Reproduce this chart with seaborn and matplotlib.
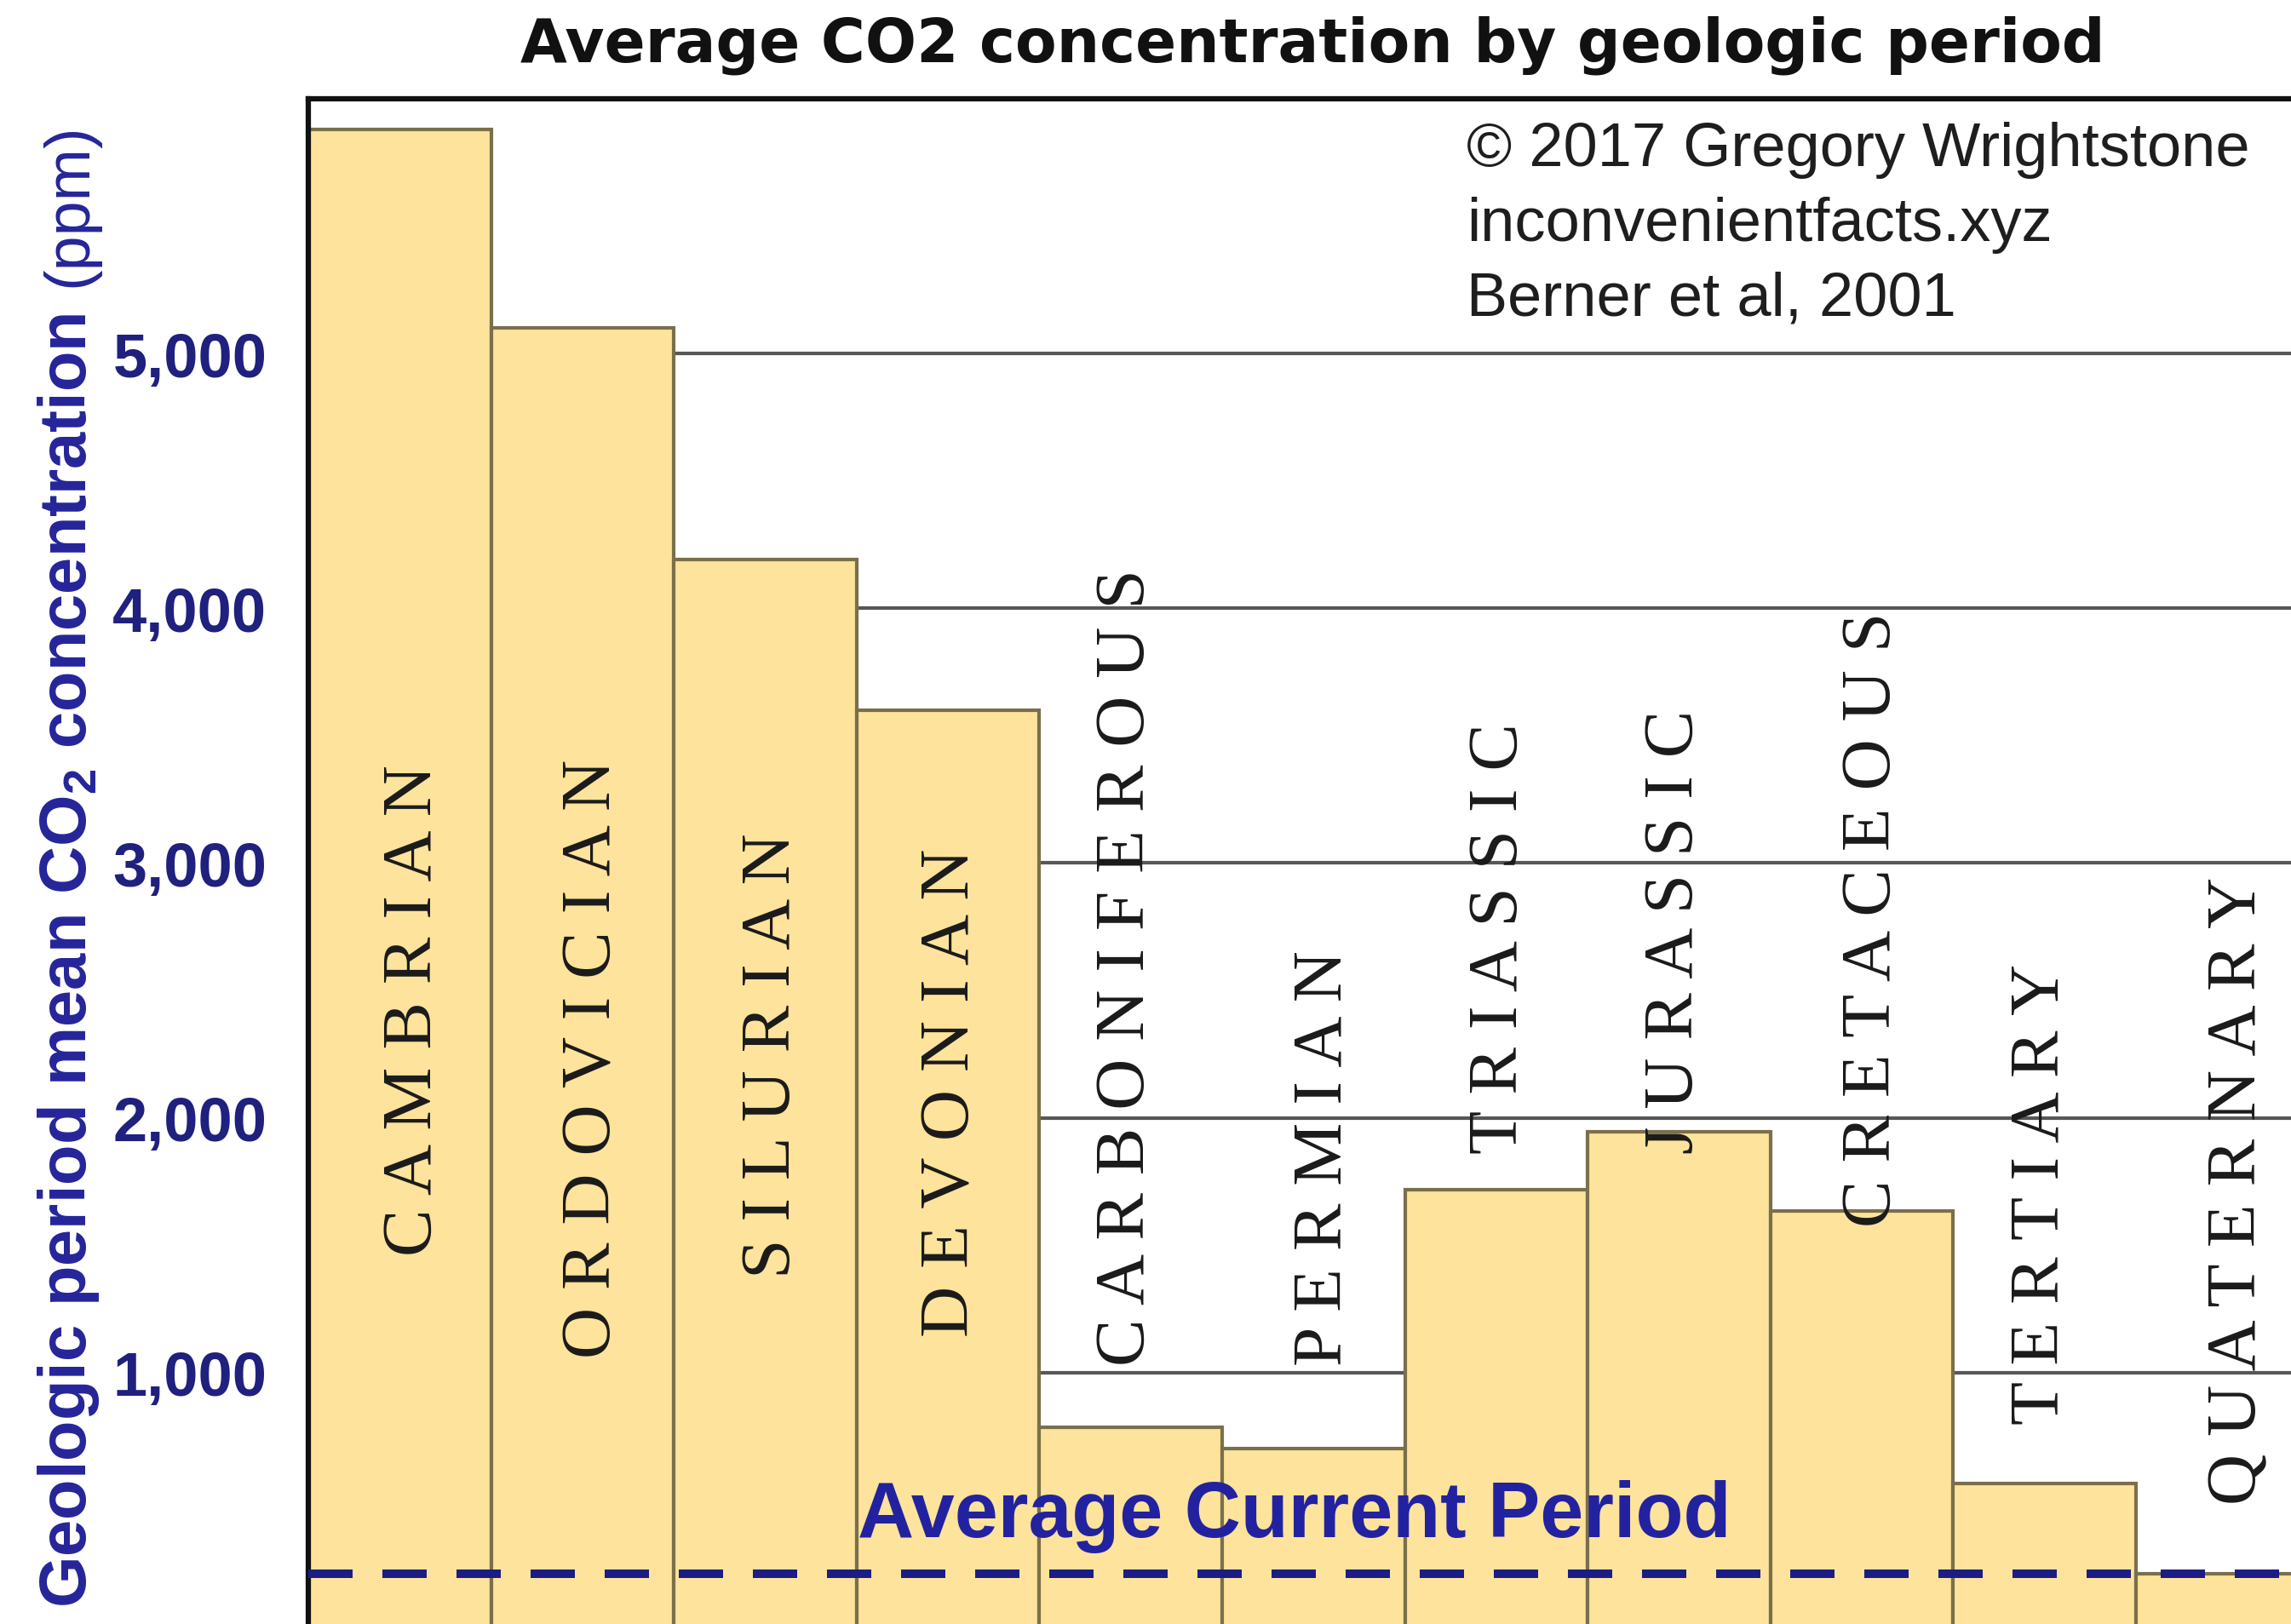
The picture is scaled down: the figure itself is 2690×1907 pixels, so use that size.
import matplotlib.pyplot as plt
import seaborn as sns
import pandas as pd

# data (ppm)
periods = ['CAMBRIAN', 'ORDOVICIAN', 'SILURIAN', 'DEVONIAN', 'CARBONIFEROUS',
           'PERMIAN', 'TRIASSIC', 'JURASSIC', 'CRETACEOUS', 'TERTIARY', 'QUATERNARY']
co2_ppm = [5880, 5100, 4190, 3600, 786, 702, 1719, 1946, 1635, 565, 210]
current_ppm = 210
y_ticks = [1000, 2000, 3000, 4000, 5000]
credits = ['© 2017 Gregory Wrightstone', 'inconvenientfacts.xyz', 'Berner et al, 2001']

# where the vertical period names start (ppm) and their small sideways shift
label_base = [1461, 1060, 1374, 1144, 1030, 1030, 1862, 1862, 1575, 800, 485]
label_dx = [0.08, 0.06, 0.04, 0.02, -0.02, 0.06, 0.02, -0.02, 0.06, -0.02, 0.06]

sns.set_style('white')
plt.rcParams['font.family'] = ['Liberation Sans', 'DejaVu Sans']
plt.rcParams['mathtext.fontset'] = 'custom'
plt.rcParams['mathtext.rm'] = 'Liberation Sans:bold'
plt.rcParams['mathtext.default'] = 'rm'

W, H = 2690, 1908
fig = plt.figure(figsize=(W / 100, H / 100), dpi=100)
ax = fig.add_axes([362 / W, 0.0, 1 - 362 / W, 1 - 117 / H])

df = pd.DataFrame({'period': periods, 'co2': co2_ppm})
sns.barplot(data=df, x='period', y='co2', order=periods, width=1.0,
            color='#FDE39B', saturation=1, edgecolor='#7a6f4c', linewidth=3,
            errorbar=None, ax=ax)

# grid sits behind the bars
ax.set_axisbelow(True)
ax.yaxis.grid(True, color='#575757', linewidth=3)
ax.xaxis.grid(False)

# today's level
ax.axhline(current_ppm, color='#1c1c85', lw=7.2, dashes=(5.2, 3.5), zorder=4)
ax.text(4.896, 358, 'Average Current Period', ha='center', va='baseline',
        fontsize=66, fontweight='bold', color='#2222a0', zorder=5)

# period names, spaced out and standing upright
for i, name in enumerate(periods):
    ax.text(i + label_dx[i], label_base[i], ' '.join(name), rotation=90,
            rotation_mode='anchor', ha='left', va='center', fontsize=60,
            family=['Liberation Serif', 'DejaVu Serif'], color='#1a1a1a', zorder=3)

ax.set_xlim(-0.5, 10.348)
ax.set_ylim(13, 6000)
ax.set_xticks([])
ax.set_xlabel('')
ax.set_ylabel('')
ax.set_yticks(y_ticks)
ax.set_yticklabels([f'{v:,}' for v in y_ticks], fontsize=52, fontweight='bold',
                   color='#20207f')
ax.tick_params(axis='y', length=0, pad=35)

for side in ['top', 'left']:
    ax.spines[side].set_linewidth(4.5)
    ax.spines[side].set_color('#111111')
for side in ['right', 'bottom']:
    ax.spines[side].set_visible(False)

# title and credits
fig.text(0.573, 1 - 73 / H, 'Average CO2 concentration by geologic period',
         ha='center', va='baseline', fontsize=51, fontweight='bold',
         family=['DejaVu Sans'], color='#111111')
for line, base in zip(credits, [195, 283, 370]):
    fig.text(1722 / W, 1 - base / H, line, ha='left', va='baseline',
             fontsize=52, color='#1e1e1e')

# y axis label: bold part plus a lighter (ppm)
fig.text(101 / W, 1 - 1888 / H, r'Geologic period mean CO$_2$ concentration',
         rotation=90, rotation_mode='anchor', ha='left', va='baseline',
         fontsize=56, fontweight='bold', color='#25259a')
fig.text(101 / W, 1 - 337 / H, '(ppm)', rotation=90, rotation_mode='anchor',
         ha='left', va='baseline', fontsize=53, color='#25259a')

fig.savefig('out.png', dpi=100)
